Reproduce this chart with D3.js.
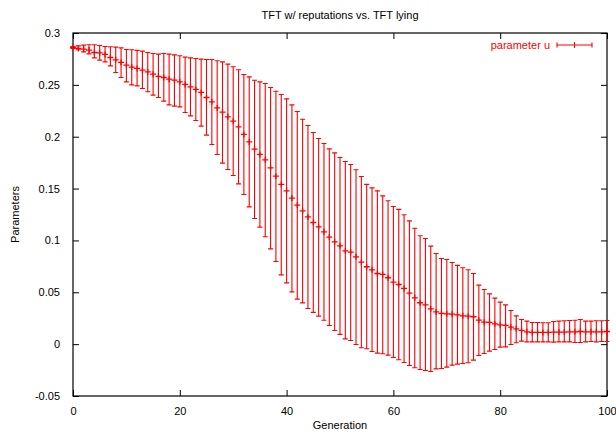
<!DOCTYPE html>
<html>
<head>
<meta charset="utf-8">
<script src="https://cdn.jsdelivr.net/npm/d3@7"></script>
<style>
  body { margin: 0; background: #fff; }
  svg text { font-family: "Liberation Sans", Arial, sans-serif; font-size: 11px; }
</style>
</head>
<body>
<div id="chart"></div>
<script>
// chart data: generation 0..100, mean of parameter u and its error range
const generations = d3.range(0, 101);

const meanU = [
  0.2860, 0.2851, 0.2844, 0.2835, 0.2812, 0.2809, 0.2793, 0.2764, 0.2741, 0.2716,
  0.2690, 0.2671, 0.2658, 0.2642, 0.2625, 0.2603, 0.2581, 0.2571, 0.2555, 0.2545,
  0.2529, 0.2504, 0.2481, 0.2456, 0.2427, 0.2378, 0.2336, 0.2278, 0.2237, 0.2192,
  0.2150, 0.2095, 0.2022, 0.1950, 0.1880, 0.1829, 0.1777, 0.1700, 0.1620, 0.1540,
  0.1478, 0.1408, 0.1340, 0.1285, 0.1227, 0.1173, 0.1131, 0.1083, 0.1032, 0.0986,
  0.0948, 0.0900, 0.0887, 0.0842, 0.0791, 0.0746, 0.0717, 0.0681, 0.0672, 0.0640,
  0.0598, 0.0575, 0.0537, 0.0492, 0.0447, 0.0399, 0.0379, 0.0341, 0.0311, 0.0296,
  0.0292, 0.0289, 0.0283, 0.0273, 0.0270, 0.0264, 0.0231, 0.0212, 0.0209, 0.0196,
  0.0186, 0.0180, 0.0164, 0.0148, 0.0132, 0.0119, 0.0113, 0.0113, 0.0113, 0.0113,
  0.0116, 0.0116, 0.0116, 0.0119, 0.0119, 0.0122, 0.0119, 0.0119, 0.0119, 0.0119,
  0.0122
];

const lowU = [
  0.2850, 0.2838, 0.2818, 0.2799, 0.2760, 0.2738, 0.2722, 0.2683, 0.2619, 0.2571,
  0.2529, 0.2500, 0.2490, 0.2465, 0.2433, 0.2401, 0.2378, 0.2343, 0.2307, 0.2295,
  0.2288, 0.2234, 0.2201, 0.2157, 0.2102, 0.2015, 0.1925, 0.1829, 0.1745, 0.1684,
  0.1626, 0.1545, 0.1443, 0.1324, 0.1212, 0.1128, 0.1035, 0.0919, 0.0797, 0.0668,
  0.0591, 0.0504, 0.0434, 0.0398, 0.0344, 0.0306, 0.0270, 0.0231, 0.0180, 0.0132,
  0.0094, 0.0051, 0.0035, -0.0003, -0.0035, -0.0045, -0.0071, -0.0087, -0.0093, -0.0106,
  -0.0129, -0.0151, -0.0177, -0.0206, -0.0228, -0.0244, -0.0254, -0.0264, -0.0238, -0.0235,
  -0.0222, -0.0202, -0.0193, -0.0186, -0.0180, -0.0154, -0.0109, -0.0090, -0.0067, -0.0051,
  -0.0029, -0.0026, -0.0003, 0.0013, 0.0029, 0.0022, 0.0022, 0.0022, 0.0022, 0.0022,
  0.0019, 0.0022, 0.0022, 0.0022, 0.0016, 0.0016, 0.0022, 0.0026, 0.0022, 0.0026,
  0.0026
];

const highU = [
  0.2870, 0.2876, 0.2883, 0.2886, 0.2886, 0.2880, 0.2870, 0.2867, 0.2864, 0.2857,
  0.2841, 0.2838, 0.2832, 0.2825, 0.2812, 0.2803, 0.2796, 0.2803, 0.2796, 0.2789,
  0.2780, 0.2767, 0.2760, 0.2754, 0.2748, 0.2745, 0.2745, 0.2732, 0.2722, 0.2700,
  0.2674, 0.2645, 0.2600, 0.2577, 0.2545, 0.2529, 0.2513, 0.2475, 0.2439, 0.2407,
  0.2365, 0.2307, 0.2243, 0.2169, 0.2108, 0.2041, 0.1983, 0.1935, 0.1883, 0.1844,
  0.1800, 0.1761, 0.1732, 0.1681, 0.1617, 0.1540, 0.1507, 0.1478, 0.1430, 0.1382,
  0.1327, 0.1299, 0.1247, 0.1189, 0.1118, 0.1045, 0.1019, 0.0945, 0.0874, 0.0826,
  0.0816, 0.0787, 0.0759, 0.0736, 0.0717, 0.0681, 0.0569, 0.0527, 0.0485, 0.0444,
  0.0405, 0.0379, 0.0325, 0.0273, 0.0238, 0.0222, 0.0209, 0.0209, 0.0206, 0.0206,
  0.0219, 0.0222, 0.0225, 0.0228, 0.0231, 0.0238, 0.0222, 0.0222, 0.0225, 0.0225,
  0.0228
];

const xTicks = [0, 20, 40, 60, 80, 100];
const yTicks = [-0.05, 0, 0.05, 0.1, 0.15, 0.2, 0.25, 0.3];

const chartTitle = "TFT w/ reputations vs. TFT lying";
const xLabel = "Generation";
const yLabel = "Parameters";
const seriesName = "parameter u";

// size and margins
const width = 616, height = 432;
const margin = { top: 33, right: 9, bottom: 36, left: 73 };
const red = "#ff0000";

const svg = d3.select("#chart").append("svg")
    .attr("width", width)
    .attr("height", height);

const x = d3.scaleLinear()
    .domain([0, 100])
    .range([margin.left, width - margin.right]);

const y = d3.scaleLinear()
    .domain([-0.05, 0.3])
    .range([height - margin.bottom, margin.top]);

const fmt = d => d === 0 ? "0" : String(+d.toFixed(2));

// axes (gnuplot style: inward ticks, mirrored)
const tick = 6;
svg.append("g")
    .attr("transform", `translate(0,${y.range()[0]})`)
    .call(d3.axisBottom(x).tickValues(xTicks).tickSize(-tick).tickPadding(tick + 5).tickFormat(fmt))
    .call(g => g.select(".domain").remove());
svg.append("g")
    .attr("transform", `translate(0,${y.range()[1]})`)
    .call(d3.axisTop(x).tickValues(xTicks).tickSize(-tick).tickFormat(""))
    .call(g => g.select(".domain").remove());
svg.append("g")
    .attr("transform", `translate(${x.range()[0]},0)`)
    .call(d3.axisLeft(y).tickValues(yTicks).tickSize(-tick).tickPadding(tick + 7).tickFormat(fmt))
    .call(g => g.select(".domain").remove());
svg.append("g")
    .attr("transform", `translate(${x.range()[1]},0)`)
    .call(d3.axisRight(y).tickValues(yTicks).tickSize(-tick).tickFormat(""))
    .call(g => g.select(".domain").remove());

svg.selectAll(".tick line").attr("stroke", "#000");
svg.selectAll(".tick text").attr("fill", "#000").style("font-size", "11px");

// frame
svg.append("rect")
    .attr("x", x.range()[0])
    .attr("y", y.range()[1])
    .attr("width", x.range()[1] - x.range()[0])
    .attr("height", y.range()[0] - y.range()[1])
    .attr("fill", "none")
    .attr("stroke", "#000")
    .attr("stroke-width", 1.2);

// labels
svg.append("text")
    .attr("x", (x.range()[0] + x.range()[1]) / 2)
    .attr("y", 19)
    .attr("text-anchor", "middle")
    .text(chartTitle);

svg.append("text")
    .attr("x", (x.range()[0] + x.range()[1]) / 2)
    .attr("y", 429)
    .attr("text-anchor", "middle")
    .text(xLabel);

svg.append("text")
    .attr("transform", `translate(19,${(y.range()[0] + y.range()[1]) / 2}) rotate(-90)`)
    .attr("text-anchor", "middle")
    .text(yLabel);

// error bars
const data = generations.map((g, i) => ({ g, mean: meanU[i], lo: lowU[i], hi: highU[i] }));
const cap = 2.5, cross = 3;

const bars = svg.append("g")
    .attr("stroke", red)
    .attr("stroke-width", 1.1)
    .attr("fill", "none");

bars.selectAll(".bar")
    .data(data)
    .enter()
    .append("path")
    .attr("class", "bar")
    .attr("d", d => {
        const cx = x(d.g), y0 = y(d.lo), y1 = y(d.hi);
        return `M${cx},${y0}V${y1}M${cx - cap},${y1}H${cx + cap}M${cx - cap},${y0}H${cx + cap}`;
    });

bars.selectAll(".pt")
    .data(data)
    .enter()
    .append("path")
    .attr("class", "pt")
    .attr("stroke-width", 1.3)
    .attr("d", d => {
        const cx = x(d.g), cy = y(d.mean);
        return `M${cx - cross},${cy}H${cx + cross}M${cx},${cy - cross}V${cy + cross}`;
    });

// legend
const legY = 45;
svg.append("text")
    .attr("x", 550)
    .attr("y", legY + 4)
    .attr("text-anchor", "end")
    .attr("fill", red)
    .text(seriesName);

svg.append("path")
    .attr("stroke", red)
    .attr("stroke-width", 1.1)
    .attr("fill", "none")
    .attr("d", `M557,${legY}H592M557,${legY - cap}V${legY + cap}M592,${legY - cap}V${legY + cap}` +
        `M${574.5 - cross},${legY}H${574.5 + cross}M574.5,${legY - cross}V${legY + cross}`);
</script>
</body>
</html>
